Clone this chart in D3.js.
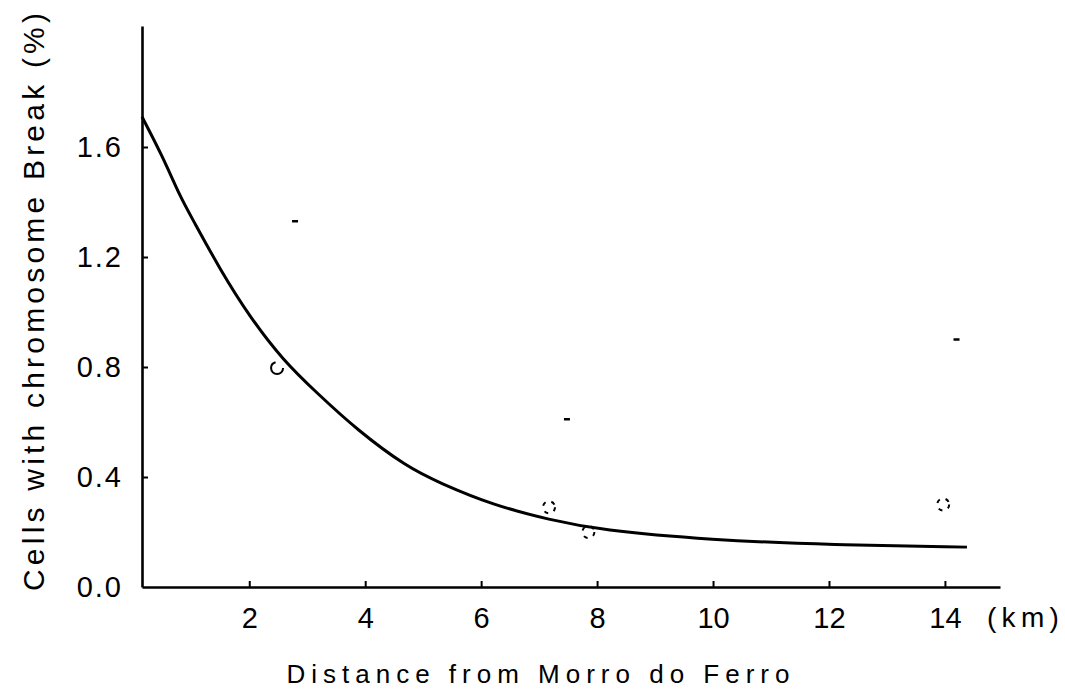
<!DOCTYPE html>
<html>
<head>
<meta charset="utf-8">
<title>Chromosome breaks vs distance</title>
<script src="https://d3js.org/d3.v7.min.js"></script>
<style>
  body { margin: 0; background: #fff; }
  svg { display: block; }
</style>
</head>
<body>
<svg width="1065" height="695" font-family="Liberation Sans, Arial, sans-serif"></svg>
<script>
// fitted curve (km, % cells)
var curveKm  = [0.15, 0.51, 0.81, 1.03, 1.50, 2.01, 2.58, 3.17, 3.86, 4.72, 5.29, 6.20, 7.19, 8.05, 9.95, 12.07, 14.38];
var curvePct = [1.71, 1.564, 1.418, 1.335, 1.153, 0.982, 0.825, 0.705, 0.571, 0.436, 0.378, 0.298, 0.244, 0.207, 0.171, 0.153, 0.145];

// observed points (faint circles)
var pointKm  = [2.48, 7.17, 7.85, 13.97];
var pointPct = [0.796, 0.29, 0.20, 0.30];

// faint marks above points (error bar caps, mostly lost in the scan)
var capKm  = [2.79, 7.48, 14.2];
var capPct = [1.33, 0.61, 0.90];

var xTicks = [2, 4, 6, 8, 10, 12, 14];
var yTicks = [0, 0.4, 0.8, 1.2, 1.6];

var xTitle = "Distance from Morro do Ferro";
var yTitle = "Cells with chromosome Break (%)";
var xUnit = "(km)";

var svg = d3.select("svg");

var x = d3.scaleLinear().domain([0.15, 14.95]).range([142, 1000]);
var y = d3.scaleLinear().domain([0, 2.04]).range([587, 26]);

var xAxis = svg.append("g")
    .attr("transform", "translate(0," + y(0) + ")")
    .call(d3.axisBottom(x).tickValues(xTicks).tickFormat(d3.format("d"))
      .tickSize(-6).tickSizeOuter(0).tickPadding(20));

var yAxis = svg.append("g")
    .attr("transform", "translate(" + x.range()[0] + ",0)")
    .call(d3.axisLeft(y).tickValues(yTicks).tickFormat(d3.format(".1f"))
      .tickSize(-6).tickSizeOuter(0).tickPadding(19));

[xAxis, yAxis].forEach(function(a) {
  a.select(".domain").attr("stroke", "#000").attr("stroke-width", 2.6);
  a.selectAll(".tick line").attr("stroke", "#000").attr("stroke-width", 2);
  a.selectAll(".tick text").attr("fill", "#000").attr("font-size", 29);
});
yAxis.selectAll(".tick text").attr("letter-spacing", 2);
yAxis.selectAll(".tick line").filter(function(d) { return d === 0; }).remove();

svg.append("text")
    .attr("x", x(14) + 42)
    .attr("y", y(0) + 20)
    .attr("dy", "0.71em")
    .attr("font-size", 28)
    .attr("textLength", 72)
    .attr("lengthAdjust", "spacing")
    .text(xUnit);

// curve
var line = d3.line()
    .x(function(d) { return x(d[0]); })
    .y(function(d) { return y(d[1]); })
    .curve(d3.curveBasis);

svg.append("path")
    .datum(d3.zip(curveKm, curvePct))
    .attr("fill", "none")
    .attr("stroke", "#000")
    .attr("stroke-width", 3)
    .attr("d", line);

// points
svg.append("g")
  .selectAll("circle")
  .data(d3.zip(pointKm, pointPct))
  .enter().append("circle")
    .attr("cx", function(d) { return x(d[0]); })
    .attr("cy", function(d) { return y(d[1]); })
    .attr("r", 6)
    .attr("fill", "none")
    .attr("stroke", "#000")
    .attr("stroke-width", 2)
    .attr("stroke-dasharray", function(d, i) { return i === 0 ? "26 12" : "4 6"; });

svg.append("g")
  .selectAll("line")
  .data(d3.zip(capKm, capPct))
  .enter().append("line")
    .attr("x1", function(d) { return x(d[0]) - 3; })
    .attr("x2", function(d) { return x(d[0]) + 3; })
    .attr("y1", function(d) { return y(d[1]); })
    .attr("y2", function(d) { return y(d[1]); })
    .attr("stroke", "#000")
    .attr("stroke-width", 2.5);

// titles
svg.append("text")
    .attr("x", 538)
    .attr("y", 683)
    .attr("text-anchor", "middle")
    .attr("font-size", 26)
    .attr("textLength", 503)
    .attr("lengthAdjust", "spacing")
    .text(xTitle);

svg.append("text")
    .attr("transform", "translate(33,302)rotate(-90)")
    .attr("text-anchor", "middle")
    .attr("dy", "0.35em")
    .attr("font-size", 30)
    .attr("textLength", 578)
    .attr("lengthAdjust", "spacing")
    .text(yTitle);
</script>
</body>
</html>
